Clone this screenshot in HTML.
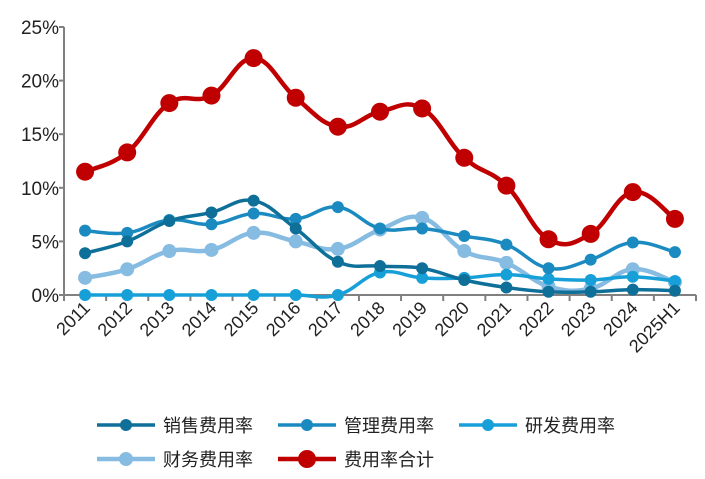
<!DOCTYPE html>
<html><head><meta charset="utf-8"><style>
body{margin:0;background:#fff;width:705px;height:474px;overflow:hidden}
text{font-family:"Liberation Sans","Noto Sans CJK SC",sans-serif}
</style></head><body>
<svg id="c" width="705" height="474"></svg>
<script>
const categories=["2011","2012","2013","2014","2015","2016","2017","2018","2019","2020","2021","2022","2023","2024","2025H1"];
const sales=[3.9,5.0,6.9,7.7,8.8,6.2,3.1,2.7,2.5,1.4,0.7,0.3,0.3,0.5,0.4];
const mgmt=[6.0,5.8,7.0,6.6,7.6,7.1,8.2,6.2,6.2,5.5,4.7,2.5,3.3,4.9,4.0];
const rnd=[0,0,0,0,0,0,0,2.1,1.6,1.6,1.9,1.5,1.4,1.7,1.3];
const fin=[1.6,2.4,4.1,4.2,5.8,5.0,4.3,6.1,7.2,4.1,3.0,0.8,0.6,2.4,1.2];
const total=[11.5,13.3,17.9,18.6,22.1,18.4,15.7,17.1,17.4,12.8,10.2,5.2,5.7,9.6,7.1];
const yTicks=[0,5,10,15,20,25];
const seriesNames=["销售费用率","管理费用率","研发费用率","财务费用率","费用率合计"];
const NS="http://www.w3.org/2000/svg",svg=document.getElementById('c');
const x0=64,x1=696,y0=295,y1=27,ymax=25;
const step=(x1-x0)/categories.length;
const X=i=>x0+step*(i+0.5), Y=v=>y0-(v/ymax)*(y0-y1);
function el(t,a,p){const e=document.createElementNS(NS,t);for(const k in a)e.setAttribute(k,a[k]);(p||svg).appendChild(e);return e;}
const ax=el('line',{x1:x0,y1:y1,x2:x0,y2:y0,stroke:'#808080','stroke-width':2});

const xa=el('line',{x1:x0,y1:y0,x2:x1,y2:y0,stroke:'#808080','stroke-width':2});

yTicks.forEach(v=>{
 el('line',{x1:x0-5,y1:Y(v),x2:x0,y2:Y(v),stroke:'#808080','stroke-width':2});
 const t=el('text',{x:x0-5,y:Y(v)+7,'text-anchor':'end','font-size':19,fill:'#222'});t.textContent=v+'%';
 
});
for(let i=0;i<=categories.length;i++)el('line',{x1:x0+step*i,y1:y0,x2:x0+step*i,y2:y0+6,stroke:'#808080','stroke-width':2});
categories.forEach((c,i)=>{
 const t=el('text',{x:X(i)+6,y:y0+14,'text-anchor':'end','font-size':18,fill:'#222',transform:`rotate(-45 ${X(i)+6} ${y0+14})`});t.textContent=c;
 
});
function path(vals){const p=vals.map((v,i)=>[X(i),Y(v)]);let d=`M${p[0][0]},${p[0][1]}`;const k=0.2;
 for(let i=0;i<p.length-1;i++){const a=p[i-1]||p[i],b=p[i],c=p[i+1],e=p[i+2]||c;
  d+=` C${b[0]+(c[0]-a[0])*k},${b[1]+(c[1]-a[1])*k} ${c[0]-(e[0]-b[0])*k},${c[1]-(e[1]-b[1])*k} ${c[0]},${c[1]}`;}return d;}
const styles=[['#0e6f99',3.5,6],['#1a8ac0',3.5,6],['#17a0d8',3.5,6],['#86bbe2',4.5,7],['#c00000',4.5,9]];
const data=[sales,mgmt,rnd,fin,total];
const order=[3,2,1,0,4];
order.forEach(s=>{
 const g=el('g',{});
 const [col,w,r]=styles[s];
 el('path',{d:path(data[s]),fill:'none',stroke:col,'stroke-width':w},g);
 data[s].forEach((v,i)=>{const m=el('circle',{cx:X(i),cy:Y(v),r:r,fill:col},g);
  });
});
const leg=[[97,425],[278,425],[459,425],[97,459],[278,459]];
seriesNames.forEach((n,s)=>{
 const g=el('g',{});
 const [col,w,r]=styles[s],[lx,ly]=leg[s];
 el('line',{x1:lx,y1:ly,x2:lx+58,y2:ly,stroke:col,'stroke-width':w},g);
 el('circle',{cx:lx+29,cy:ly,r:r,fill:col},g);
 const t=el('text',{x:lx+66,y:ly+7,'font-size':18,fill:'#222'},g);t.textContent=n;
});
</script>
</body></html>
